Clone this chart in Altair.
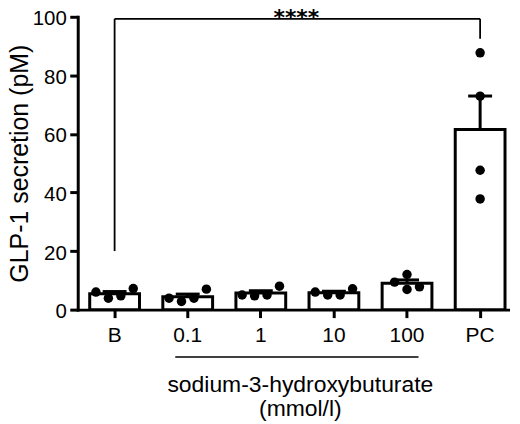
import altair as alt
import pandas as pd

# ---- data ----
groups = ["B", "0.1", "1", "10", "100", "PC"]
vals_B = [6.0, 3.9, 4.7, 7.2]
vals_01 = [3.9, 2.8, 3.9, 7.0]
vals_1 = [5.0, 4.7, 5.0, 8.0]
vals_10 = [6.0, 5.0, 5.0, 7.1]
vals_100 = [9.4, 12.0, 6.9, 7.8]
vals_PC = [87.7, 72.9, 47.6, 37.8]
# scatter dodge lane of each replicate dot inside its bar
lanes_std = [-1.5, -0.5, 0.5, 1.5]
lanes_100 = [-1, 0, 0, 1]
lanes_PC = [0, 0, 0, 0]

y_ticks = [0, 20, 40, 60, 80, 100]

# significance bracket B vs PC
br_from, br_to = "B", "PC"
br_top = 99.3
br_left_bottom = 20
br_right_bottom = 92.5
stars = "****"
stars_level = 97.1

# grouping line under the dose groups
dose_from, dose_to = "0.1", "100"
dose_line_level = -16.2
x_title = ["sodium-3-hydroxybuturate", "(mmol/l)"]
y_title = "GLP-1 secretion (pM)"

series = [vals_B, vals_01, vals_1, vals_10, vals_100, vals_PC]
lanes = [lanes_std, lanes_std, lanes_std, lanes_std, lanes_100, lanes_PC]
rows = []
for g, vs, ls in zip(groups, series, lanes):
    for v, l in zip(vs, ls):
        rows.append({"group": g, "value": v, "lane": l})
df = pd.DataFrame(rows)

W, H = 432, 294
FONT = "Liberation Sans"
LANE_SPAN = 4.0  # lanes spread over the bar width

xscale = alt.Scale(domain=groups, paddingInner=0.319, paddingOuter=0.1025, align=0.8)
yscale = alt.Scale(domain=[0, 100], nice=False)

xaxis = alt.Axis(
    title=x_title, labelAngle=0, labelFontSize=21, labelBaseline="alphabetic",
    labelPadding=24, tickSize=8, tickWidth=3, domainWidth=3, domainCap="square",
    titleFontSize=23, titleFontWeight="normal", titleLineHeight=25,
    titleX=223, titleY=81.7, titleBaseline="alphabetic", titleAnchor="middle",
)
yaxis = alt.Axis(
    title=y_title, values=y_ticks, labelFontSize=20.5, labelPadding=3.5, labelOffset=2,
    tickSize=8, tickWidth=3, domainWidth=3, domainCap="square", grid=False,
    titleFontSize=25, titleFontWeight="normal", titleAngle=270,
    titleX=-50, titleY=H / 2, titleBaseline="alphabetic", titleAlign="center",
)

base = alt.Chart(df)
X = alt.X("group:N", scale=xscale, axis=xaxis)

bars = base.mark_bar(
    fill="white", stroke="black", strokeWidth=3, width=alt.RelativeBandSize(1)
).encode(x=X, y=alt.Y("mean(value):Q", scale=yscale, axis=yaxis))

err = base.transform_aggregate(
    m="mean(value)", s="stderr(value)", groupby=["group"]
).transform_calculate(up="datum.m + datum.s")
err_rule = err.mark_rule(color="black", strokeWidth=3).encode(
    x=X, y=alt.Y("m:Q", scale=yscale), y2="up:Q"
)
err_cap = err.mark_tick(color="black", size=24, thickness=3, opacity=1).encode(
    x=X, y=alt.Y("up:Q", scale=yscale)
)

# one dot layer per lane, placed inside the band
dot_layers = []
for lane in sorted(set(lanes_std + lanes_100 + lanes_PC)):
    dot_layers.append(
        base.transform_filter(alt.datum.lane == lane)
        .mark_circle(color="black", size=90, opacity=1)
        .encode(
            x=alt.X("group:N", scale=xscale, bandPosition=0.5 + lane / LANE_SPAN),
            y=alt.Y("value:Q", scale=yscale),
        )
    )

vert = pd.DataFrame({
    "group": [br_from, br_to],
    "y1": [br_left_bottom, br_right_bottom],
    "y2": [br_top, br_top],
})
br_v = alt.Chart(vert).mark_rule(color="black", strokeWidth=1.8).encode(
    x=X, y=alt.Y("y1:Q", scale=yscale), y2="y2:Q"
)
horiz = pd.DataFrame({"group": [br_from], "group_end": [br_to], "y": [br_top]})
br_h = alt.Chart(horiz).mark_rule(color="black", strokeWidth=1.8).encode(
    x=X, x2="group_end:N", y=alt.Y("y:Q", scale=yscale)
)

star_df = pd.DataFrame({"label": [stars], "y": [stars_level]})
star_txt = alt.Chart(star_df).mark_text(
    font="DejaVu Sans", fontSize=22, fontWeight="bold", baseline="alphabetic", align="center"
).encode(x=alt.value(W / 2 + 3.5), y=alt.Y("y:Q", scale=yscale), text="label:N")

dose_df = pd.DataFrame({"group": [dose_from], "group_end": [dose_to], "y": [dose_line_level]})
dose_line = alt.Chart(dose_df).mark_rule(color="black", strokeWidth=1.6).encode(
    x=alt.X("group:N", scale=xscale, bandPosition=0.25),
    x2=alt.X2("group_end:N", bandPosition=0.73),
    y=alt.Y("y:Q", scale=yscale),
)

chart = alt.layer(
    bars, err_rule, err_cap, *dot_layers, br_v, br_h, star_txt, dose_line
).properties(
    width=W, height=H, autosize="none",
    padding={"left": 70, "top": 8, "right": 4, "bottom": 114},
).configure(font=FONT).configure_view(stroke=None).configure_axis(
    domainColor="black", tickColor="black", labelColor="black", titleColor="black",
    labelFont=FONT, titleFont=FONT,
)

chart.save("out.html", embed_options={"renderer": "svg", "actions": False})
